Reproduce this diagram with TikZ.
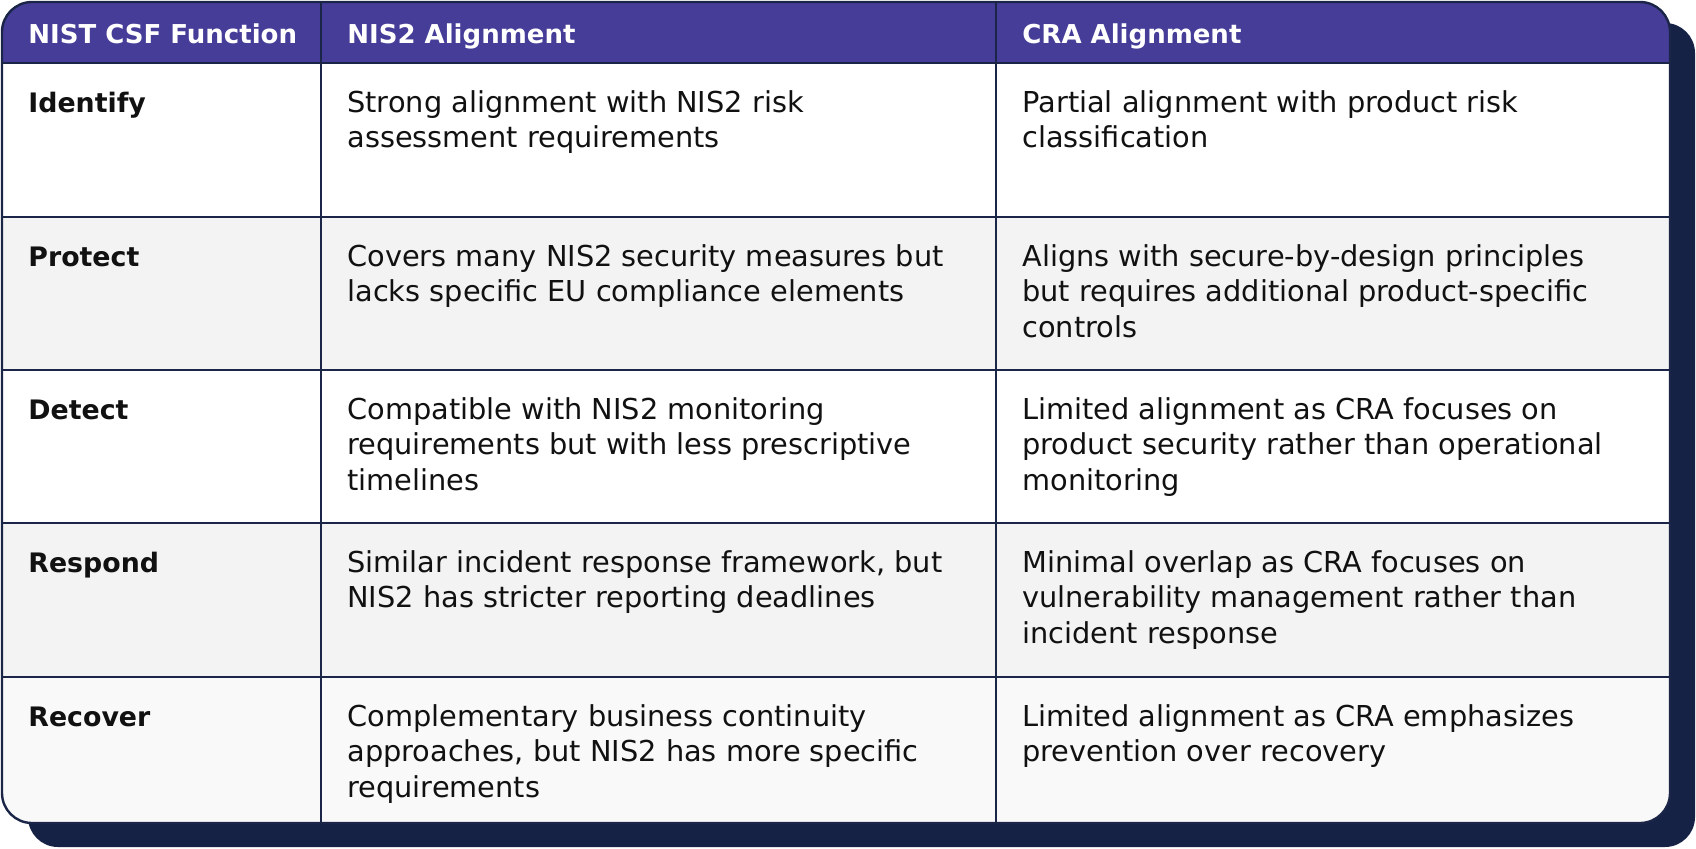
\documentclass[tikz,border=0pt]{standalone}
\usepackage{fontspec}
\setmainfont{DejaVu Sans}
\definecolor{hdr}{HTML}{463D99}
\definecolor{navy}{HTML}{152246}
\definecolor{gridc}{HTML}{1B2547}
\definecolor{rowgray}{HTML}{F3F3F3}
\definecolor{rowlight}{HTML}{F9F9F9}
\definecolor{ink}{HTML}{111111}
\newcommand{\firstst}{\rule{0pt}{12pt}}
\begin{document}
\begin{tikzpicture}[x=0.5pt,y=-0.5pt,
 cell/.style={anchor=north west, inner sep=0pt, align=left, text=ink, font=\fontsize{14.4}{17.75}\selectfont},
 headcell/.style={anchor=north west, inner sep=0pt, align=left, text=white, font=\bfseries\fontsize{13}{17.75}\selectfont},
 keycell/.style={anchor=north west, inner sep=0pt, align=left, text=ink, font=\bfseries\fontsize{13.4}{17.75}\selectfont},
 gridline/.style={draw=gridc, line width=1pt}]
\useasboundingbox (0,0) rectangle (1696,848);
% shadow
\fill[navy, rounded corners=15pt] (28,23) rectangle (1695,847);
% table body
\begin{scope}
\clip[rounded corners=15pt] (2,2) rectangle (1670,823);
\fill[white] (2,2) rectangle (1670,823);
\fill[hdr] (2,2) rectangle (1670,63);
\fill[rowgray] (2,217) rectangle (1670,370);
\fill[rowgray] (2,523) rectangle (1670,677);
\fill[rowlight] (2,677) rectangle (1670,823);
\draw[gridline] (2,63) -- (1670,63);
\draw[gridline] (2,217) -- (1670,217);
\draw[gridline] (2,370) -- (1670,370);
\draw[gridline] (2,523) -- (1670,523);
\draw[gridline] (2,677) -- (1670,677);
\draw[gridline] (321,2) -- (321,823);
\draw[gridline] (996,2) -- (996,823);
\end{scope}
\draw[gridc, line width=1.2pt, rounded corners=15pt] (2,2) rectangle (1670,823);
% header
\node[headcell] (h1) at (28,19) {\firstst NIST CSF Function};
\node[headcell] (h2) at (347,19) {\firstst NIS2 Alignment};
\node[headcell] (h3) at (1022,19) {\firstst CRA Alignment};
% Identify
\node[keycell] (k1) at (28,88) {\firstst Identify};
\node[cell] (n1) at (347,88) {\firstst Strong alignment with NIS2 risk\\assessment requirements};
\node[cell] (c1) at (1022,88) {\firstst Partial alignment with product risk\\classification};
% Protect
\node[keycell] (k2) at (28,242) {\firstst Protect};
\node[cell] (n2) at (347,242) {\firstst Covers many NIS2 security measures but\\lacks specific EU compliance elements};
\node[cell] (c2) at (1022,242) {\firstst Aligns with secure-by-design principles\\but requires additional product-specific\\controls};
% Detect
\node[keycell] (k3) at (28,395) {\firstst Detect};
\node[cell] (n3) at (347,395) {\firstst Compatible with NIS2 monitoring\\requirements but with less prescriptive\\timelines};
\node[cell] (c3) at (1022,395) {\firstst Limited alignment as CRA focuses on\\product security rather than operational\\monitoring};
% Respond
\node[keycell] (k4) at (28,548) {\firstst Respond};
\node[cell] (n4) at (347,548) {\firstst Similar incident response framework, but\\NIS2 has stricter reporting deadlines};
\node[cell] (c4) at (1022,548) {\firstst Minimal overlap as CRA focuses on\\vulnerability management rather than\\incident response};
% Recover
\node[keycell] (k5) at (28,702) {\firstst Recover};
\node[cell] (n5) at (347,702) {\firstst Complementary business continuity\\approaches, but NIS2 has more specific\\requirements};
\node[cell] (c5) at (1022,702) {\firstst Limited alignment as CRA emphasizes\\prevention over recovery};
\end{tikzpicture}
\end{document}
